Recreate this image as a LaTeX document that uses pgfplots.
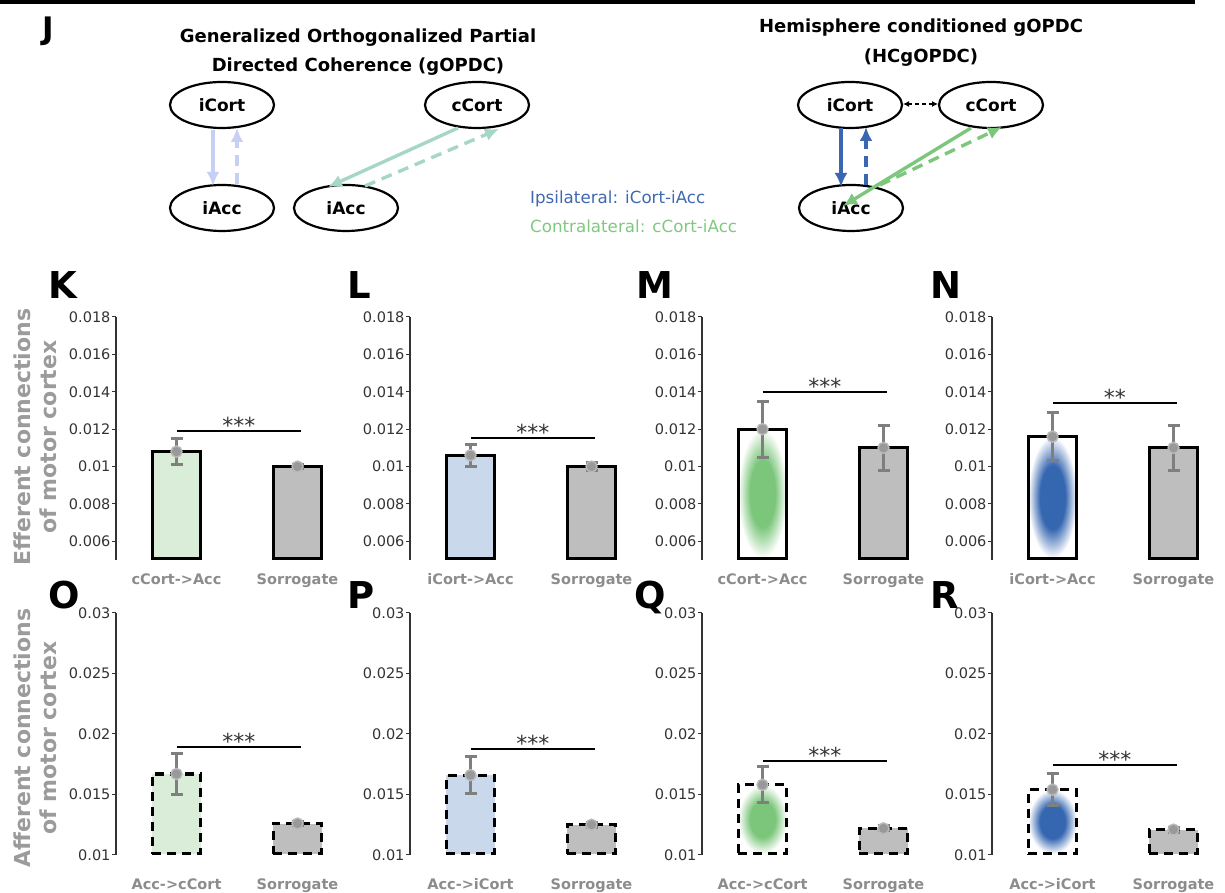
\documentclass[border=0pt]{standalone}
\usepackage{fontspec}
\setmainfont{DejaVu Sans}
\usepackage{pgfplots}
\pgfplotsset{compat=1.18}
\usetikzlibrary{arrows.meta,shapes.geometric}

\definecolor{lgreen}{HTML}{D9EDD9}
\definecolor{lblue}{HTML}{C9D8EB}
\definecolor{sgray}{HTML}{BEBEBE}
\definecolor{blobgreen}{HTML}{7BC67B}
\definecolor{blobblue}{HTML}{3566B0}
\definecolor{ebgray}{HTML}{7F7F7F}
\definecolor{labgray}{HTML}{8C8C8C}
\definecolor{ylabgray}{HTML}{9B9B9B}
\definecolor{arrlav}{HTML}{C5D0F3}
\definecolor{arrteal}{HTML}{A6D7C6}
\definecolor{arrblue}{HTML}{3A67B1}
\definecolor{arrgreen}{HTML}{7CC77C}
\definecolor{ipsi}{HTML}{3F68B0}
\definecolor{contra}{HTML}{80C880}

\pgfdeclareradialshading{gblob}{\pgfpoint{0bp}{0bp}}{color(0bp)=(blobgreen); color(13bp)=(blobgreen); color(19bp)=(blobgreen!50!white); color(25bp)=(white); color(50bp)=(white)}
\pgfdeclareradialshading{bblob}{\pgfpoint{0bp}{0bp}}{color(0bp)=(blobblue); color(13bp)=(blobblue); color(19bp)=(blobblue!50!white); color(25bp)=(white); color(50bp)=(white)}

\pgfplotsset{
  panelbase/.style={
    scale only axis, width=242pt, xmin=0.5, xmax=2.5, clip=false,
    axis lines=left, axis line style={-, line width=1.2pt, black!80},
    x axis line style={draw=none},
    xtick={1,2}, major x tick style={draw=none},
    ytick style={line width=1pt, black!80}, major tick length=4pt, tick align=outside,
    yticklabel style={font=\fontsize{14.5}{14.5}\selectfont, text=black!80, xshift=2pt,
      /pgf/number format/fixed, /pgf/number format/precision=3,
      /pgf/number format/assume math mode=true},
    scaled y ticks=false,
  },
  toprow/.style={panelbase, height=243pt, ymin=0.005, ymax=0.018,
    ytick={0.006,0.008,0.010,0.012,0.014,0.016,0.018},
    xticklabel style={font=\bfseries\fontsize{14.5}{14.5}\selectfont, text=labgray, yshift=-6pt}},
  botrow/.style={panelbase, height=242pt, ymin=0.01, ymax=0.03,
    ytick={0.010,0.015,0.020,0.025,0.030},
    xticklabel style={font=\bfseries\fontsize{14.5}{14.5}\selectfont, text=labgray, yshift=-16pt}},
  barsolid/.style={draw=black, line width=3.2pt},
  bardash/.style={draw=black, line width=3.2pt, dash pattern=on 9pt off 6pt},
  errpts/.style={only marks, mark=*, mark size=5.5pt,
    mark options={fill=gray!80, draw=gray!55, line width=1.4pt, solid},
    error bars/.cd, y dir=both, y explicit,
    error bar style={line width=3pt, color=ebgray, solid},
    error mark options={rotate=90, mark size=6pt, line width=3pt, color=ebgray}},
  sigline/.style={black, line width=2pt},
}
\tikzset{stars/.style={font=\fontsize{22}{22}\selectfont, text=black!80, anchor=base, inner sep=0pt, yshift=-2.5pt},
  plab/.style={font=\bfseries\fontsize{37}{37}\selectfont, anchor=north west, inner sep=0pt},
  ylab/.style={font=\bfseries\fontsize{22}{26}\selectfont, text=ylabgray, rotate=90, align=center},
  cnode/.style={draw=black, line width=2.2pt, ellipse, minimum width=104pt, minimum height=46pt,
    font=\bfseries\fontsize{17}{17}\selectfont},
  ttl/.style={font=\bfseries\fontsize{18}{18}\selectfont},
  arr/.style={line width=3.4pt, -{Latex[length=14pt,width=13pt]}},
  darr/.style={line width=3.4pt, dash pattern=on 11pt off 7pt, -{Latex[length=14pt,width=13pt]}},
}

\begin{document}
\begin{tikzpicture}
\path[use as bounding box] (0pt,0pt) rectangle (1225pt,893pt);
\begin{scope}[x=1pt,y=1pt]
\fill[black] (0,888.5) rectangle (1195,893);
\node[plab, font=\bfseries\fontsize{31}{31}\selectfont] at (42,876) {J};
\node[ttl] at (358,855) {Generalized Orthogonalized Partial};
\node[ttl] at (358,826) {Directed Coherence (gOPDC)};
\node[ttl] at (921,865) {Hemisphere conditioned gOPDC};
\node[ttl] at (921,835) {(HCgOPDC)};
% nodes
\node[cnode] at (222,788) {iCort};
\node[cnode] at (477,788) {cCort};
\node[cnode] at (222,685) {iAcc};
\node[cnode] at (346,685) {iAcc};
\node[cnode] at (850,788) {iCort};
\node[cnode] at (991,788) {cCort};
\node[cnode] at (851,685) {iAcc};
% arrows left
\draw[arrlav, arr] (213,763) -- (213,707);
\draw[arrlav, darr] (237,709) -- (237,765);
\draw[arrteal, arr] (458,765) -- (328,706);
\draw[arrteal, darr] (365,707) -- (499,764);
% arrows right
\draw[arrblue, arr] (841,765) -- (841,706);
\draw[arrblue, darr] (866,708) -- (866,766);
\draw[arrgreen, arr] (971,765) -- (843,687);
\draw[arrgreen, darr] (880,708) -- (1002,766);
\draw[black, line width=1.2pt, dash pattern=on 4pt off 3pt, {Latex[length=6pt,width=6pt]}-{Latex[length=6pt,width=6pt]}] (903,789) -- (938,789);
% legend
\node[anchor=west, text=ipsi, font=\fontsize{16.7}{16.7}\selectfont, inner sep=0pt] at (530,694) {Ipsilateral: iCort-iAcc};
\node[anchor=west, text=contra, font=\fontsize{16.7}{16.7}\selectfont, inner sep=0pt] at (530,667) {Contralateral: cCort-iAcc};
% panel letters
\node[plab] at (48,622) {K};
\node[plab] at (347,622) {L};
\node[plab] at (636,622) {M};
\node[plab] at (930,622) {N};
\node[plab] at (48,312) {O};
\node[plab] at (347,312) {P};
\node[plab] at (634,312) {Q};
\node[plab] at (930,312) {R};
% y labels
\node[ylab] at (35,456) {Efferent connections\\of motor cortex};
\node[ylab] at (35,155) {Afferent connections\\of motor cortex};
\end{scope}

% ---------- K
\begin{axis}[toprow, at={(116pt,333pt)}, anchor=south west, xticklabels={cCort->Acc, Sorrogate}]
\addplot[barsolid, fill=lgreen] coordinates {(0.8,0.0051) (1.2,0.0051) (1.2,0.0108) (0.8,0.0108)} -- cycle;
\addplot[barsolid, fill=sgray] coordinates {(1.8,0.0051) (2.2,0.0051) (2.2,0.0100) (1.8,0.0100)} -- cycle;
\addplot[errpts] coordinates {(1,0.0108) +- (0,0.0007) (2,0.0100) +- (0,0.0001)};
\addplot[sigline] coordinates {(1,0.0119) (2.03,0.0119)};
\node[stars] at (axis cs:1.515,0.0119) {***};
\end{axis}
% ---------- L
\begin{axis}[toprow, at={(410pt,333pt)}, anchor=south west, xticklabels={iCort->Acc, Sorrogate}]
\addplot[barsolid, fill=lblue] coordinates {(0.8,0.0051) (1.2,0.0051) (1.2,0.0106) (0.8,0.0106)} -- cycle;
\addplot[barsolid, fill=sgray] coordinates {(1.8,0.0051) (2.2,0.0051) (2.2,0.0100) (1.8,0.0100)} -- cycle;
\addplot[errpts] coordinates {(1,0.0106) +- (0,0.0006) (2,0.0100) +- (0,0.0002)};
\addplot[sigline] coordinates {(1,0.0115) (2.03,0.0115)};
\node[stars] at (axis cs:1.515,0.0115) {***};
\end{axis}
% ---------- M
\begin{axis}[toprow, at={(702pt,333pt)}, anchor=south west, xticklabels={cCort->Acc, Sorrogate}]
\addplot[barsolid, shading=gblob, shade] coordinates {(0.8,0.0051) (1.2,0.0051) (1.2,0.0120) (0.8,0.0120)} -- cycle;
\addplot[barsolid, fill=sgray] coordinates {(1.8,0.0051) (2.2,0.0051) (2.2,0.0110) (1.8,0.0110)} -- cycle;
\addplot[errpts] coordinates {(1,0.0120) +- (0,0.0015) (2,0.0110) +- (0,0.0012)};
\addplot[sigline] coordinates {(1,0.0140) (2.03,0.0140)};
\node[stars] at (axis cs:1.515,0.0140) {***};
\end{axis}
% ---------- N
\begin{axis}[toprow, at={(992pt,333pt)}, anchor=south west, xticklabels={iCort->Acc, Sorrogate}]
\addplot[barsolid, shading=bblob, shade] coordinates {(0.8,0.0051) (1.2,0.0051) (1.2,0.0116) (0.8,0.0116)} -- cycle;
\addplot[barsolid, fill=sgray] coordinates {(1.8,0.0051) (2.2,0.0051) (2.2,0.0110) (1.8,0.0110)} -- cycle;
\addplot[errpts] coordinates {(1,0.0116) +- (0,0.0013) (2,0.0110) +- (0,0.0012)};
\addplot[sigline] coordinates {(1,0.0134) (2.03,0.0134)};
\node[stars] at (axis cs:1.515,0.0134) {**};
\end{axis}
% ---------- O
\begin{axis}[botrow, at={(116pt,38pt)}, anchor=south west, xticklabels={Acc->cCort, Sorrogate}]
\addplot[bardash, fill=lgreen] coordinates {(0.8,0.0101) (1.2,0.0101) (1.2,0.0167) (0.8,0.0167)} -- cycle;
\addplot[bardash, fill=sgray] coordinates {(1.8,0.0101) (2.2,0.0101) (2.2,0.0126) (1.8,0.0126)} -- cycle;
\addplot[errpts] coordinates {(1,0.0167) +- (0,0.0017) (2,0.0126) +- (0,0.0002)};
\addplot[sigline] coordinates {(1,0.0189) (2.03,0.0189)};
\node[stars] at (axis cs:1.515,0.0189) {***};
\end{axis}
% ---------- P
\begin{axis}[botrow, at={(410pt,38pt)}, anchor=south west, xticklabels={Acc->iCort, Sorrogate}]
\addplot[bardash, fill=lblue] coordinates {(0.8,0.0101) (1.2,0.0101) (1.2,0.0166) (0.8,0.0166)} -- cycle;
\addplot[bardash, fill=sgray] coordinates {(1.8,0.0101) (2.2,0.0101) (2.2,0.0125) (1.8,0.0125)} -- cycle;
\addplot[errpts] coordinates {(1,0.0166) +- (0,0.0015) (2,0.0125) +- (0,0.0002)};
\addplot[sigline] coordinates {(1,0.0188) (2.03,0.0188)};
\node[stars] at (axis cs:1.515,0.0188) {***};
\end{axis}
% ---------- Q
\begin{axis}[botrow, at={(702pt,38pt)}, anchor=south west, xticklabels={Acc->cCort, Sorrogate}]
\addplot[bardash, shading=gblob, shade] coordinates {(0.8,0.0101) (1.2,0.0101) (1.2,0.0158) (0.8,0.0158)} -- cycle;
\addplot[bardash, fill=sgray] coordinates {(1.8,0.0101) (2.2,0.0101) (2.2,0.0122) (1.8,0.0122)} -- cycle;
\addplot[errpts] coordinates {(1,0.0158) +- (0,0.0015) (2,0.0122) +- (0,0.0002)};
\addplot[sigline] coordinates {(1,0.0178) (2.03,0.0178)};
\node[stars] at (axis cs:1.515,0.0178) {***};
\end{axis}
% ---------- R
\begin{axis}[botrow, at={(992pt,38pt)}, anchor=south west, xticklabels={Acc->iCort, Sorrogate}]
\addplot[bardash, shading=bblob, shade] coordinates {(0.8,0.0101) (1.2,0.0101) (1.2,0.0154) (0.8,0.0154)} -- cycle;
\addplot[bardash, fill=sgray] coordinates {(1.8,0.0101) (2.2,0.0101) (2.2,0.0121) (1.8,0.0121)} -- cycle;
\addplot[errpts] coordinates {(1,0.0154) +- (0,0.0013) (2,0.0121) +- (0,0.0002)};
\addplot[sigline] coordinates {(1,0.0174) (2.03,0.0174)};
\node[stars] at (axis cs:1.515,0.0174) {***};
\end{axis}
\end{tikzpicture}
\end{document}
